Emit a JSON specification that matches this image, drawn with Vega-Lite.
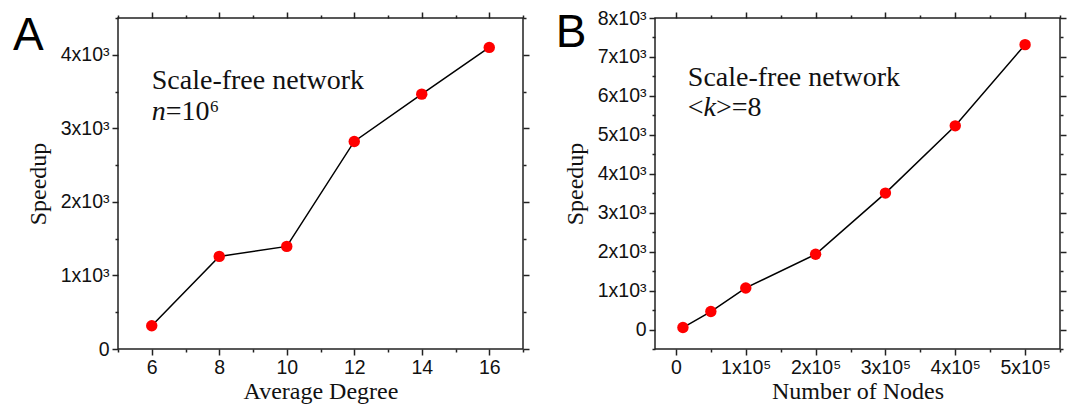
{
  "$schema": "https://vega.github.io/schema/vega-lite/v6.json",
  "padding": {"left": 12, "top": 7, "right": 0, "bottom": 0},
  "background": "white",
  "spacing": 132,
  "bounds": "flush",
  "config": {
    "view": {"stroke": "#222", "strokeWidth": 1.5},
    "axis": {
      "labelFont": "Liberation Sans", "labelFontSize": 19.5, "labelColor": "#111",
      "titleFont": "Liberation Serif", "titleFontSize": 24, "titleFontWeight": "normal", "titleColor": "#111",
      "tickColor": "#222", "tickWidth": 1.5, "domain": false, "grid": false,
      "labelOverlap": false, "labelFlush": false
    },
    "text": {"font": "Liberation Serif", "fontSize": 28, "align": "left", "baseline": "alphabetic", "color": "#111"}
  },
  "hconcat": [
    {
      "width": 405, "height": 331,
      "data": {"values": [
        {"deg": 6, "speedup": 317},
        {"deg": 8, "speedup": 1259},
        {"deg": 10, "speedup": 1395},
        {"deg": 12, "speedup": 2822},
        {"deg": 14, "speedup": 3465},
        {"deg": 16, "speedup": 4100}
      ]},
      "resolve": {"axis": {"x": "independent", "y": "independent"}},
      "layer": [
        {
          "mark": {"type": "line", "color": "black", "strokeWidth": 1.5},
          "encoding": {
            "x": {"field": "deg", "type": "quantitative", "scale": {"domain": [5, 17], "nice": false, "zero": false},
              "axis": {"orient": "bottom", "values": [6, 8, 10, 12, 14, 16], "title": "Average Degree", "tickSize": 6, "labelPadding": 3, "titlePadding": 3}},
            "y": {"field": "speedup", "type": "quantitative", "scale": {"domain": [0, 4500], "nice": false},
              "axis": {"orient": "left", "values": [0, 1000, 2000, 3000, 4000], "labelExpr": "datum.value == 0 ? '0' : format(datum.value / 1000, 'd') + 'x10³'", "title": "Speedup", "tickSize": 6, "labelPadding": 3, "titlePadding": 10}}
          }
        },
        {
          "mark": {"type": "point", "filled": true, "color": "#ff0000", "size": 130, "opacity": 1},
          "encoding": {
            "x": {"field": "deg", "type": "quantitative", "axis": {"orient": "bottom", "values": [5, 7, 9, 11, 13, 15, 17], "labels": false, "tickSize": 3, "title": null}},
            "y": {"field": "speedup", "type": "quantitative", "axis": {"orient": "left", "values": [500, 1500, 2500, 3500, 4500], "labels": false, "tickSize": 3, "title": null}}
          }
        },
        {
          "data": {"values": [{}]},
          "mark": {"type": "text", "text": "Scale-free network"},
          "encoding": {
            "x": {"datum": 6, "type": "quantitative", "axis": {"orient": "top", "values": [6, 8, 10, 12, 14, 16], "labels": false, "tickSize": 6, "title": null}},
            "y": {"datum": 3540, "type": "quantitative", "axis": {"orient": "right", "values": [0, 1000, 2000, 3000, 4000], "labels": false, "tickSize": 6, "title": null}}
          }
        },
        {
          "data": {"values": [{}]},
          "mark": {"type": "text", "text": "n", "fontStyle": "italic"},
          "encoding": {
            "x": {"datum": 6, "type": "quantitative", "axis": {"orient": "top", "values": [5, 7, 9, 11, 13, 15, 17], "labels": false, "tickSize": 3, "title": null}},
            "y": {"datum": 3110, "type": "quantitative", "axis": {"orient": "right", "values": [500, 1500, 2500, 3500, 4500], "labels": false, "tickSize": 3, "title": null}}
          }
        },
        {
          "data": {"values": [{}]},
          "mark": {"type": "text", "text": "=10⁶"},
          "encoding": {
            "x": {"datum": 6.415, "type": "quantitative", "axis": null},
            "y": {"datum": 3110, "type": "quantitative", "axis": null}
          }
        },
        {
          "data": {"values": [{}]},
          "mark": {"type": "text", "text": "A", "font": "Liberation Sans", "fontSize": 46, "color": "black"},
          "encoding": {
            "x": {"datum": 1.889, "type": "quantitative", "axis": null},
            "y": {"datum": 4069, "type": "quantitative", "axis": null}
          }
        }
      ]
    },
    {
      "width": 405, "height": 331,
      "data": {"values": [
        {"nodes": 10000, "speedup": 51},
        {"nodes": 50000, "speedup": 462},
        {"nodes": 100000, "speedup": 1068},
        {"nodes": 200000, "speedup": 1932},
        {"nodes": 300000, "speedup": 3504},
        {"nodes": 400000, "speedup": 5231},
        {"nodes": 500000, "speedup": 7316}
      ]},
      "resolve": {"axis": {"x": "independent", "y": "independent"}},
      "layer": [
        {
          "mark": {"type": "line", "color": "black", "strokeWidth": 1.5},
          "encoding": {
            "x": {"field": "nodes", "type": "quantitative", "scale": {"domain": [-30000, 550000], "nice": false, "zero": false},
              "axis": {"orient": "bottom", "values": [0, 100000, 200000, 300000, 400000, 500000], "labelExpr": "datum.value == 0 ? '0' : format(datum.value / 100000, 'd') + 'x10⁵'", "title": "Number of Nodes", "tickSize": 6, "labelPadding": 3, "titlePadding": 3}},
            "y": {"field": "speedup", "type": "quantitative", "scale": {"domain": [-500, 8000], "nice": false, "zero": false},
              "axis": {"orient": "left", "values": [0, 1000, 2000, 3000, 4000, 5000, 6000, 7000, 8000], "labelExpr": "datum.value == 0 ? '0' : format(datum.value / 1000, 'd') + 'x10³'", "title": "Speedup", "tickSize": 6, "labelPadding": 3, "titlePadding": 10}}
          }
        },
        {
          "mark": {"type": "point", "filled": true, "color": "#ff0000", "size": 130, "opacity": 1},
          "encoding": {
            "x": {"field": "nodes", "type": "quantitative", "axis": {"orient": "bottom", "values": [50000, 150000, 250000, 350000, 450000, 550000], "labels": false, "tickSize": 3, "title": null}},
            "y": {"field": "speedup", "type": "quantitative", "axis": {"orient": "left", "values": [-500, 500, 1500, 2500, 3500, 4500, 5500, 6500, 7500], "labels": false, "tickSize": 3, "title": null}}
          }
        },
        {
          "data": {"values": [{}]},
          "mark": {"type": "text", "text": "Scale-free network"},
          "encoding": {
            "x": {"datum": 17000, "type": "quantitative", "axis": {"orient": "top", "values": [0, 100000, 200000, 300000, 400000, 500000], "labels": false, "tickSize": 6, "title": null}},
            "y": {"datum": 6250, "type": "quantitative", "axis": {"orient": "right", "values": [0, 1000, 2000, 3000, 4000, 5000, 6000, 7000, 8000], "labels": false, "tickSize": 6, "title": null}}
          }
        },
        {
          "data": {"values": [{}]},
          "mark": {"type": "text", "text": "<"},
          "encoding": {
            "x": {"datum": 17000, "type": "quantitative", "axis": {"orient": "top", "values": [50000, 150000, 250000, 350000, 450000, 550000], "labels": false, "tickSize": 3, "title": null}},
            "y": {"datum": 5480, "type": "quantitative", "axis": {"orient": "right", "values": [-500, 500, 1500, 2500, 3500, 4500, 5500, 6500, 7500], "labels": false, "tickSize": 3, "title": null}}
          }
        },
        {
          "data": {"values": [{}]},
          "mark": {"type": "text", "text": "k", "fontStyle": "italic"},
          "encoding": {
            "x": {"datum": 39600, "type": "quantitative", "axis": null},
            "y": {"datum": 5480, "type": "quantitative", "axis": null}
          }
        },
        {
          "data": {"values": [{}]},
          "mark": {"type": "text", "text": ">=8"},
          "encoding": {
            "x": {"datum": 57400, "type": "quantitative", "axis": null},
            "y": {"datum": 5480, "type": "quantitative", "axis": null}
          }
        },
        {
          "data": {"values": [{}]},
          "mark": {"type": "text", "text": "B", "font": "Liberation Sans", "fontSize": 46, "color": "black"},
          "encoding": {
            "x": {"datum": -172000, "type": "quantitative", "axis": null},
            "y": {"datum": 7255, "type": "quantitative", "axis": null}
          }
        }
      ]
    }
  ]
}
